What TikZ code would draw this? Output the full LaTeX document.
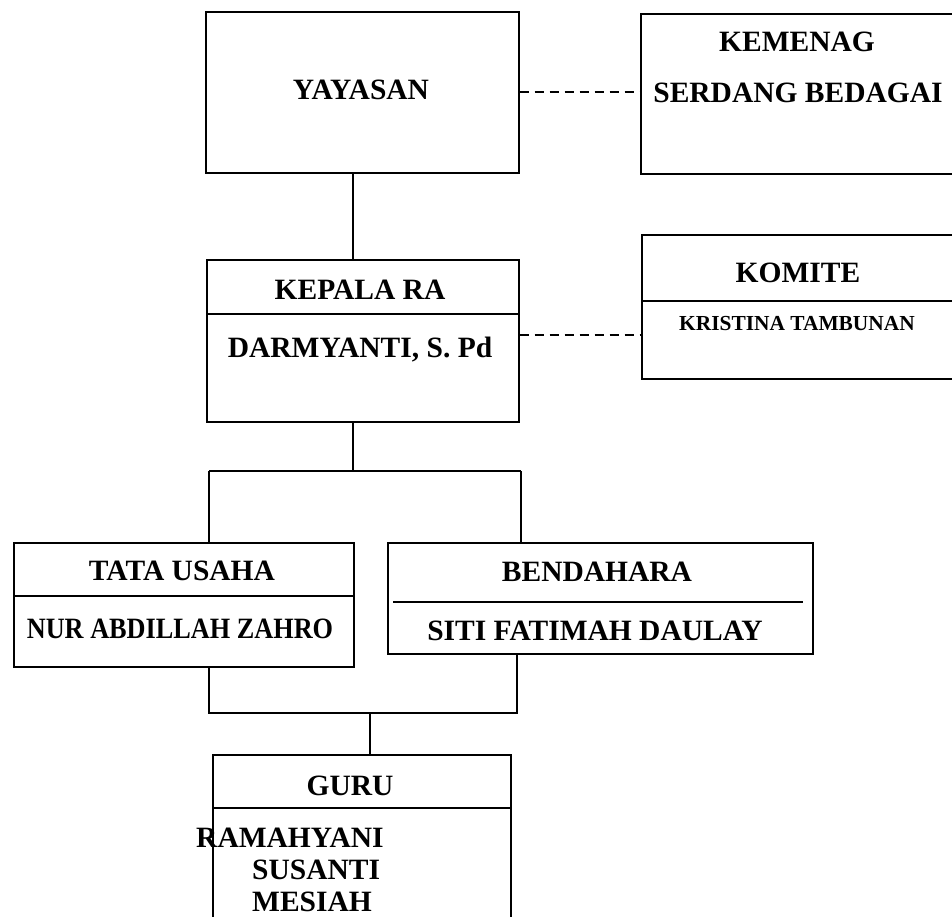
\documentclass[tikz,border=0pt]{standalone}
\usepackage{fontspec}
\usepackage{graphicx}
\setmainfont{Liberation Serif}
\begin{document}
\begin{tikzpicture}[x=1pt,y=-1pt,
  box/.style={draw, line width=1.6pt, inner sep=0pt, anchor=north west},
  lbl/.style={font=\bfseries\fontsize{29.5}{31}\selectfont, inner sep=0pt, anchor=base},
  lbll/.style={font=\bfseries\fontsize{29.5}{31}\selectfont, inner sep=0pt, anchor=base west},
  slbl/.style={font=\bfseries\fontsize{21.4}{23}\selectfont, inner sep=0pt, anchor=base},
  link/.style={line width=1.6pt},
  dlink/.style={line width=1.6pt, dash pattern=on 9pt off 6pt}]
\useasboundingbox (0,0) rectangle (952,917);

% boxes
\node[box, minimum width=313pt, minimum height=161pt] (yayasan) at (205,11) {};
\node[box, minimum width=315pt, minimum height=160pt] (kemenag) at (640,13) {};
\node[box, minimum width=312pt, minimum height=162pt] (kepala) at (206,259) {};
\node[box, minimum width=314pt, minimum height=144pt] (komite) at (641,234) {};
\node[box, minimum width=340pt, minimum height=124pt] (tata) at (13,542) {};
\node[box, minimum width=425pt, minimum height=111pt] (bend) at (387,542) {};
\node[box, minimum width=298pt, minimum height=200pt] (guru) at (212,754) {};

% dividers
\draw[link] ([yshift=-55pt]kepala.north west) -- ([yshift=-55pt]kepala.north east);
\draw[link] ([yshift=-67pt]komite.north west) -- ([yshift=-67pt]komite.north east);
\draw[link] ([yshift=-54pt]tata.north west) -- ([yshift=-54pt]tata.north east);
\draw[link] ([xshift=6pt,yshift=-60pt]bend.north west) -- ([xshift=-11pt,yshift=-60pt]bend.north east);
\draw[link] ([yshift=-54pt]guru.north west) -- ([yshift=-54pt]guru.north east);

% texts
\node[lbl] (tyay) at (361,100) {YAYASAN};
\node[lbl] (tkem1) at (797,52) {KEMENAG};
\node[lbl] (tkem2) at (798,103) {SERDANG BEDAGAI};
\node[lbl] (tkep1) at (360,299) {KEPALA RA};
\node[lbl] (tkep2) at (360,357) {DARMYANTI, S. Pd};
\node[lbl] (tkom1) at (798,282) {KOMITE};
\node[slbl] (tkom2) at (797,330) {KRISTINA TAMBUNAN};
\node[lbl] (ttu1) at (182,580) {TATA USAHA};
\node[lbl] (ttu2) at (180,638) {\scalebox{0.89}[1]{NUR ABDILLAH ZAHRO}};
\node[lbl] (tbe1) at (597,581) {BENDAHARA};
\node[lbl] (tbe2) at (595,640) {SITI FATIMAH DAULAY};
\node[lbl] (tgu) at (350,795) {GURU};
\node[lbll] (tg1) at (196,847) {RAMAHYANI};
\node[lbll] (tg2) at (252,879) {SUSANTI};
\node[lbll] (tg3) at (252,911) {MESIAH};

% helper coordinates
\coordinate (cx) at (353,0);
\coordinate (d2) at (0,335);
\coordinate (h1l) at (209,471);
\coordinate (h1r) at (521,471);
\coordinate (h2l) at (209,713);
\coordinate (h2r) at (517,713);
\coordinate (gx) at (370,713);

% connectors
\draw[link] (yayasan.south -| cx) -- (kepala.north -| cx);
\draw[dlink] (yayasan.east) -- (yayasan.east -| kemenag.west);
\draw[dlink] (kepala.east |- d2) -- (komite.west |- d2);
\draw[link] (kepala.south -| cx) -- (h1l -| cx);
\draw[link] (h1l) -- (h1r);
\draw[link] (h1l) -- (h1l |- tata.north);
\draw[link] (h1r) -- (h1r |- bend.north);
\draw[link] (h2l |- tata.south) -- (h2l) -- (h2r) -- (h2r |- bend.south);
\draw[link] (gx) -- (gx |- guru.north);
\end{tikzpicture}
\end{document}
